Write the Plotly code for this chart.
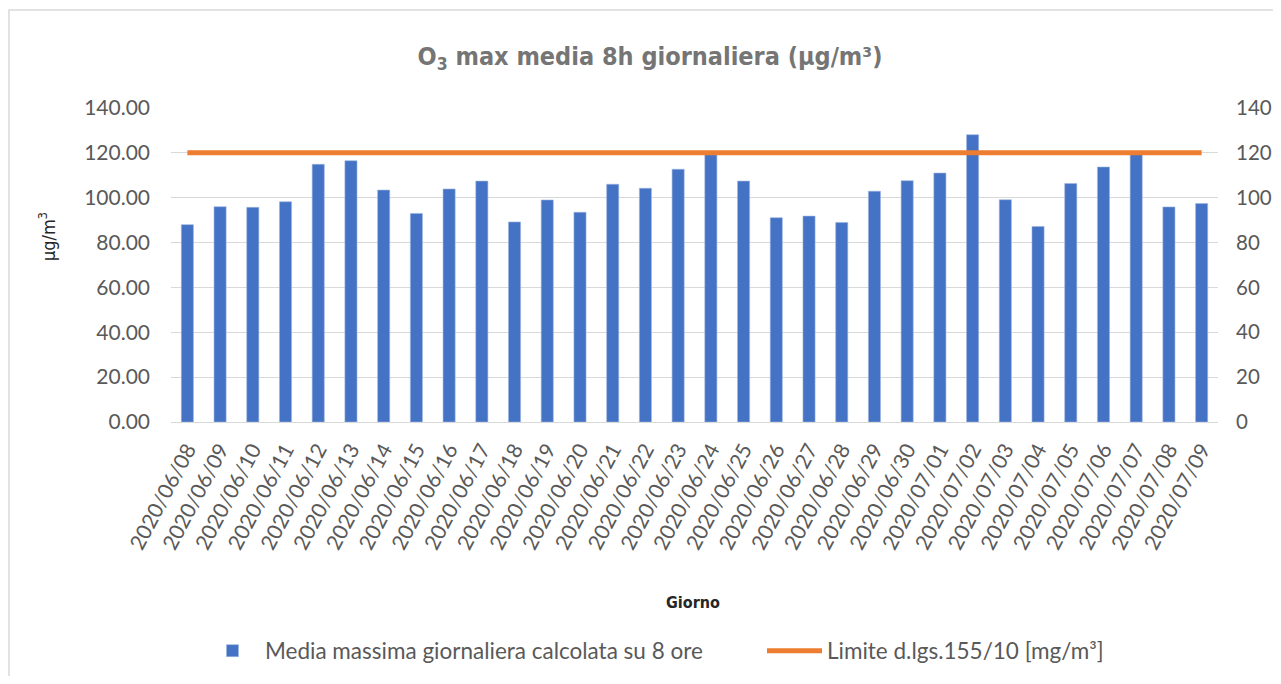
import plotly.graph_objects as go

giorni = ["2020/06/08","2020/06/09","2020/06/10","2020/06/11","2020/06/12","2020/06/13",
          "2020/06/14","2020/06/15","2020/06/16","2020/06/17","2020/06/18","2020/06/19",
          "2020/06/20","2020/06/21","2020/06/22","2020/06/23","2020/06/24","2020/06/25",
          "2020/06/26","2020/06/27","2020/06/28","2020/06/29","2020/06/30","2020/07/01",
          "2020/07/02","2020/07/03","2020/07/04","2020/07/05","2020/07/06","2020/07/07",
          "2020/07/08","2020/07/09"]
media_max_8h = [88.0, 96.0, 95.7, 98.2, 114.9, 116.5, 103.4, 93.0, 103.9, 107.4, 89.2, 99.0,
                93.5, 106.0, 104.2, 112.7, 119.2, 107.4, 91.1, 91.8, 89.0, 102.9, 107.6, 111.0,
                128.1, 99.1, 87.2, 106.3, 113.7, 120.6, 95.9, 97.4]
limite = [120] * len(giorni)

name_bar = "Media massima giornaliera calcolata su 8 ore"
name_line = "Limite d.lgs.155/10 [mg/m³]"

OFF = 8  # page body margin
W, H = 1281 - 2 * OFF, 684 - 2 * OFF
L, T = 171 - OFF, 108 - OFF
R = W - (1218 - OFF)
B = H - (422 - OFF)
pw, ph = W - L - R, H - T - B

def px(xpage):
    return (xpage - OFF - L) / pw

def py(ypage):
    return (H - B - (ypage - OFF)) / ph

def cx(xpage):
    return (xpage - OFF) / W

def cy(ypage):
    return 1 - (ypage - OFF) / H

gray = "#595959"
font_main = "Lato, Calibri, sans-serif"
font_cond = "DejaVu Sans Condensed, Liberation Sans Narrow, sans-serif"

fig = go.Figure()
fig.add_trace(go.Bar(x=giorni, y=media_max_8h, name=name_bar,
                     marker=dict(color="#4472C4", line=dict(color="#9db5e0", width=0.6)),
                     yaxis="y", legend="legend"))
fig.add_trace(go.Scatter(x=giorni, y=limite, name=name_line, mode="lines",
                         line=dict(color="#ED7D31", width=5), yaxis="y2", legend="legend2"))

leg_common = dict(orientation="h", xref="container", yref="container",
                  xanchor="left", yanchor="middle", itemwidth=55,
                  font=dict(size=22.5, color=gray), bgcolor="rgba(0,0,0,0)")

fig.update_layout(
    width=W, height=H,
    margin=dict(l=L, r=R, t=T, b=B, autoexpand=False),
    paper_bgcolor="white", plot_bgcolor="white",
    bargap=0.63,
    font=dict(family=font_main, color=gray, size=20),
    title=dict(text="O<sub>3</sub> max media 8h giornaliera (μg/m³)",
               x=cx(650), y=cy(56), xanchor="center", yanchor="middle",
               font=dict(family=font_cond, size=25, color="#757575", weight="bold")),
    xaxis=dict(type="category", tickangle=-62, showline=True, linecolor="#d9d9d9",
               linewidth=1, ticks="", ticklabelstandoff=6,
               tickfont=dict(size=21, color=gray)),
    yaxis=dict(range=[0, 140], dtick=20, tickformat=".2f", showgrid=True,
               gridcolor="#d9d9d9", gridwidth=1, zeroline=False, ticks="",
               ticklabelstandoff=20, tickfont=dict(size=21, color=gray)),
    yaxis2=dict(range=[0, 140], dtick=20, overlaying="y", side="right",
                showgrid=False, zeroline=False, tickformat="d", ticks="",
                ticklabelstandoff=17, tickfont=dict(size=20.5, color=gray)),
    legend=dict(x=cx(200), y=cy(651), **leg_common),
    legend2=dict(x=cx(762), y=cy(651), **leg_common),
    showlegend=True,
)

fig.add_annotation(text="μg/m<sup>3</sup>", xref="paper", yref="paper",
                   x=px(47), y=py(237), textangle=-90, showarrow=False,
                   font=dict(family=font_cond, size=18, color="#262626"),
                   xanchor="center", yanchor="middle")
fig.add_annotation(text="<b>Giorno</b>", xref="paper", yref="paper",
                   x=px(693), y=py(602), showarrow=False,
                   font=dict(family=font_cond, size=16, color="#262626"),
                   xanchor="center", yanchor="middle")

fig.add_shape(type="rect", xref="paper", yref="paper",
              x0=px(9), x1=px(1295), y0=py(10), y1=py(700),
              line=dict(color="#d9d9d9", width=1.5), fillcolor="rgba(0,0,0,0)", layer="below")

fig.write_html("out.html")
